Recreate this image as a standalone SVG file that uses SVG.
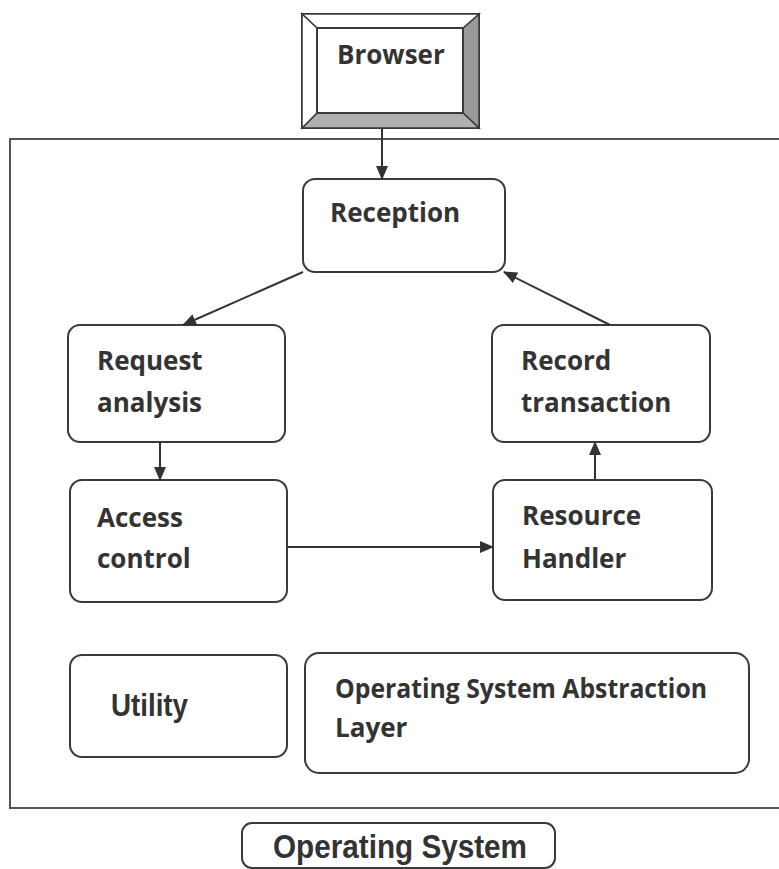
<svg xmlns="http://www.w3.org/2000/svg" width="779" height="869" viewBox="0 0 779 869">
  <style>
    .box { fill: #ffffff; stroke: #3a3a3a; stroke-width: 2; }
    .frame { fill: none; stroke: #555555; stroke-width: 2; }
    .lbl { font-family: "Open Sans", "DejaVu Sans", sans-serif; font-weight: 700; font-size: 26px; fill: #333333; }
    .hlv { font-family: "Liberation Sans", Arial, sans-serif; font-weight: 700; fill: #333333; }
    .conn { stroke: #333333; stroke-width: 2; fill: none; }
  </style>
  <defs>
    <marker id="arr" markerWidth="14" markerHeight="12" refX="13" refY="6" orient="auto" markerUnits="userSpaceOnUse">
      <path d="M0,0 L14,6 L0,12 Z" fill="#333333"/>
    </marker>
  </defs>
  <rect x="0" y="0" width="779" height="869" fill="#ffffff"/>

  <g id="container">
    <rect class="frame" x="10" y="139" width="790" height="669"/>
  </g>

  <g id="browser">
    <rect x="302" y="14" width="177" height="114" fill="#ffffff" stroke="#3a3a3a" stroke-width="2"/>
    <polygon points="463,28 479,14 479,128 463,113" fill="#9a9a9a" stroke="#3a3a3a" stroke-width="1.5"/>
    <polygon points="317,113 463,113 479,128 302,128" fill="#b0b0b0" stroke="#3a3a3a" stroke-width="1.5"/>
    <polygon points="302,14 479,14 463,28 317,28" fill="#ffffff" stroke="#3a3a3a" stroke-width="1.5"/>
    <polygon points="302,14 317,28 317,113 302,128" fill="#ffffff" stroke="#3a3a3a" stroke-width="1.5"/>
    <rect x="317" y="28" width="146" height="85" fill="#ffffff" stroke="#3a3a3a" stroke-width="2"/>
    <text class="lbl" x="337" y="64">Browser</text>
  </g>

  <g id="reception">
    <rect class="box" x="303" y="179" width="202" height="93" rx="12"/>
    <text class="lbl" x="330" y="222">Reception</text>
  </g>

  <g id="request-analysis">
    <rect class="box" x="68" y="325" width="217" height="117" rx="12"/>
    <text class="lbl" x="97" y="370">Request</text>
    <text class="lbl" x="97" y="412">analysis</text>
  </g>

  <g id="access-control">
    <rect class="box" x="70" y="480" width="217" height="122" rx="12"/>
    <text class="lbl" x="97" y="527">Access</text>
    <text class="lbl" x="97" y="568">control</text>
  </g>

  <g id="record-transaction">
    <rect class="box" x="492" y="325" width="218" height="117" rx="12"/>
    <text class="lbl" x="521" y="370">Record</text>
    <text class="lbl" x="521" y="412">transaction</text>
  </g>

  <g id="resource-handler">
    <rect class="box" x="493" y="480" width="219" height="120" rx="12"/>
    <text class="lbl" x="522" y="525">Resource</text>
    <text class="lbl" x="522" y="568">Handler</text>
  </g>

  <g id="utility">
    <rect class="box" x="70" y="655" width="217" height="102" rx="12"/>
    <text class="hlv" x="111" y="716" font-size="31" textLength="77" lengthAdjust="spacingAndGlyphs">Utility</text>
  </g>

  <g id="os-abstraction">
    <rect class="box" x="305" y="653" width="444" height="120" rx="14"/>
    <text class="lbl" x="335" y="698" textLength="372" lengthAdjust="spacingAndGlyphs">Operating System Abstraction</text>
    <text class="lbl" x="335" y="737">Layer</text>
  </g>

  <g id="operating-system">
    <rect class="box" x="242" y="823" width="313" height="45" rx="10"/>
    <text class="hlv" x="273" y="858" font-size="34" textLength="254" lengthAdjust="spacingAndGlyphs">Operating System</text>
  </g>

  <g id="connectors">
    <line class="conn" x1="382" y1="128" x2="382" y2="179" marker-end="url(#arr)"/>
    <line class="conn" x1="303" y1="272" x2="183" y2="325" marker-end="url(#arr)"/>
    <line class="conn" x1="160" y1="442" x2="160" y2="480" marker-end="url(#arr)"/>
    <line class="conn" x1="287" y1="547" x2="493" y2="547" marker-end="url(#arr)"/>
    <line class="conn" x1="595" y1="480" x2="595" y2="442" marker-end="url(#arr)"/>
    <line class="conn" x1="610" y1="325" x2="504" y2="272" marker-end="url(#arr)"/>
  </g>
</svg>
